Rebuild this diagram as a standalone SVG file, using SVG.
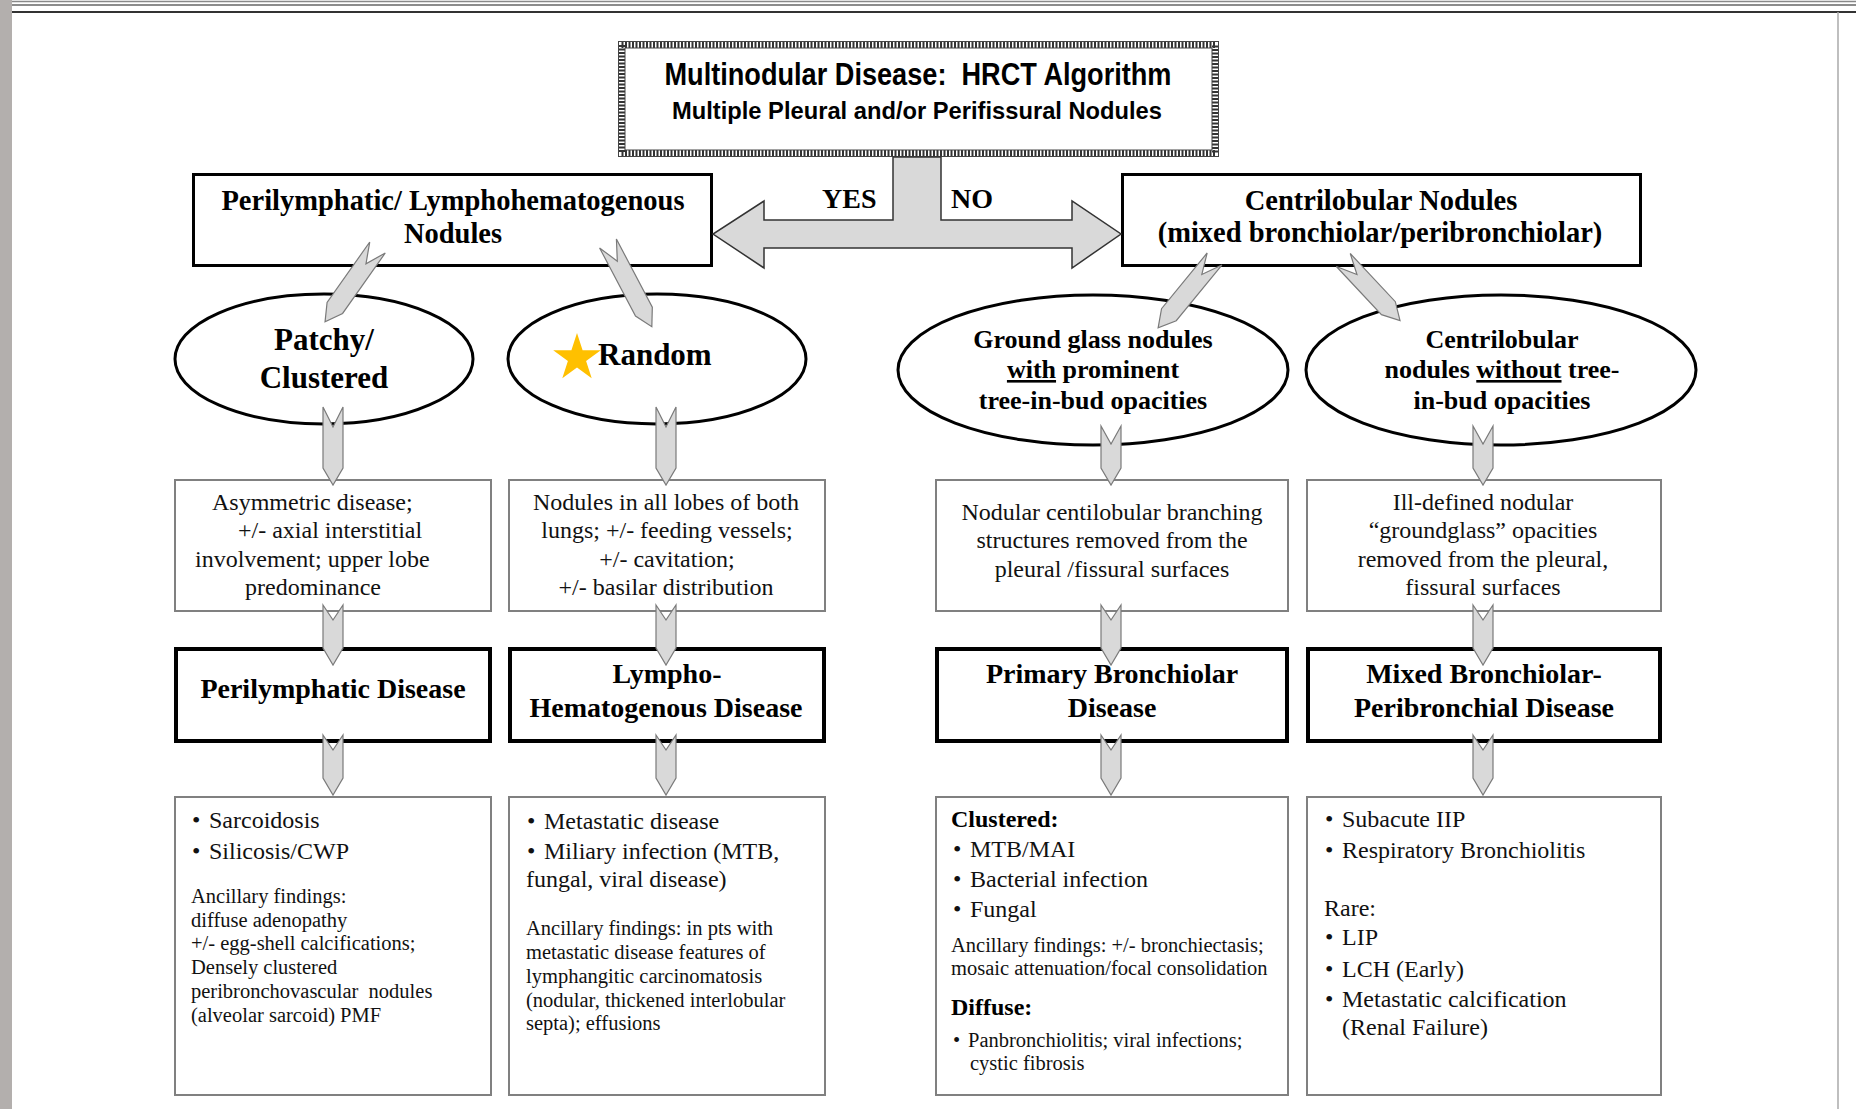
<svg xmlns="http://www.w3.org/2000/svg" width="1856" height="1109" viewBox="0 0 1856 1109">
<style>
.sb{font-family:"Liberation Serif","Times New Roman",serif;font-weight:bold;fill:#000}
.sr{font-family:"Liberation Serif","Times New Roman",serif;fill:#111}
.title{font-family:"Liberation Sans",Arial,sans-serif;font-weight:bold;fill:#000}
.thin{fill:#fff;stroke:#808080;stroke-width:2}
.thick{fill:#fff;stroke:#000;stroke-width:4}
.mid{fill:#fff;stroke:#000;stroke-width:3}
.ell{fill:#fff;stroke:#000;stroke-width:3}
.arr{fill:#d9d9d9;stroke:#7a7a7a;stroke-width:1.2;stroke-linejoin:miter}
.c{text-anchor:middle}
</style>
<rect x="0" y="0" width="1856" height="1109" fill="#fff"/>
<rect x="0" y="0" width="12" height="1109" fill="#b3afad"/>
<line x1="12" y1="1.5" x2="1856" y2="1.5" stroke="#888" stroke-width="1.5"/>
<line x1="12" y1="5" x2="1856" y2="5" stroke="#666" stroke-width="1.5"/>
<line x1="12" y1="12" x2="1856" y2="12" stroke="#333" stroke-width="2"/>
<line x1="1838" y1="12" x2="1838" y2="1109" stroke="#aaa" stroke-width="1.5"/>

<g id="title">
<rect x="621.5" y="44.5" width="594" height="109" fill="#fff" stroke="#333" stroke-width="7" stroke-dasharray="2 1.5"/>
<rect x="618.5" y="41.5" width="600" height="115" fill="none" stroke="#444" stroke-width="1"/>
<rect x="625" y="48" width="587" height="102" fill="none" stroke="#444" stroke-width="1"/>
<text class="title c" x="918" y="85" font-size="31" textLength="507" lengthAdjust="spacingAndGlyphs" xml:space="preserve">Multinodular Disease:  HRCT Algorithm</text>
<text class="title c" x="917" y="119" font-size="24" textLength="490" lengthAdjust="spacingAndGlyphs">Multiple Pleural and/or Perifissural Nodules</text>
</g>

<g id="perilymphatic-nodules">
<rect class="mid" x="193.5" y="174.5" width="518" height="91"/>
<text class="sb c" x="453" y="210" font-size="28.5">Perilymphatic/ Lymphohematogenous</text>
<text class="sb c" x="453" y="243" font-size="28.5">Nodules</text>
</g>

<g id="centrilobular-nodules">
<rect class="mid" x="1122.5" y="174.5" width="518" height="91"/>
<text class="sb c" x="1381" y="210" font-size="28.5">Centrilobular Nodules</text>
<text class="sb c" x="1380" y="242" font-size="28.5">(mixed bronchiolar/peribronchiolar)</text>
</g>

<g id="patchy">
<ellipse class="ell" cx="324" cy="359" rx="149" ry="65"/>
<text class="sb c" x="324" y="350" font-size="31">Patchy/</text>
<text class="sb c" x="324" y="388" font-size="31">Clustered</text>
</g>

<g id="random">
<ellipse class="ell" cx="657" cy="359" rx="149" ry="65"/>
<polygon fill="#FFC000" points="577,333 582.6,350.3 600.8,350.3 586.1,361 591.7,378.2 577,367.6 562.3,378.2 567.9,361 553.2,350.3 571.4,350.3"/>
<text class="sb" x="598" y="365" font-size="31">Random</text>
</g>

<g id="ground-glass">
<ellipse class="ell" cx="1093" cy="370" rx="195" ry="75"/>
<text class="sb c" x="1093" y="348" font-size="26">Ground glass nodules</text>
<text class="sb c" x="1093" y="378" font-size="26"><tspan text-decoration="underline">with</tspan> prominent</text>
<text class="sb c" x="1093" y="409" font-size="26">tree-in-bud opacities</text>
</g>

<g id="centrilobular-no-tib">
<ellipse class="ell" cx="1501" cy="370" rx="195" ry="75"/>
<text class="sb c" x="1502" y="348" font-size="26">Centrilobular</text>
<text class="sb c" x="1502" y="378" font-size="26">nodules <tspan text-decoration="underline">without</tspan> tree-</text>
<text class="sb c" x="1502" y="409" font-size="26">in-bud opacities</text>
</g>

<g id="desc-1">
<rect class="thin" x="175" y="480" width="316" height="131"/>
<text class="sr" font-size="24"><tspan x="212" y="510">Asymmetric disease;</tspan><tspan x="238" y="538">+/- axial interstitial</tspan><tspan x="195" y="567">involvement; upper lobe</tspan><tspan x="245" y="595">predominance</tspan></text>
</g>

<g id="desc-2">
<rect class="thin" x="509" y="480" width="316" height="131"/>
<text class="sr c" font-size="24"><tspan x="666" y="510">Nodules in all lobes of both</tspan><tspan x="667" y="538">lungs; +/- feeding vessels;</tspan><tspan x="667" y="567">+/- cavitation;</tspan><tspan x="666" y="595">+/- basilar distribution</tspan></text>
</g>

<g id="desc-3">
<rect class="thin" x="936" y="480" width="352" height="131"/>
<text class="sr c" font-size="24"><tspan x="1112" y="520">Nodular centilobular branching</tspan><tspan x="1112" y="548">structures removed from the</tspan><tspan x="1112" y="577">pleural /fissural surfaces</tspan></text>
</g>

<g id="desc-4">
<rect class="thin" x="1307" y="480" width="354" height="131"/>
<text class="sr c" font-size="24"><tspan x="1483" y="510">Ill-defined nodular</tspan><tspan x="1483" y="538">“groundglass” opacities</tspan><tspan x="1483" y="567">removed from the pleural,</tspan><tspan x="1483" y="595">fissural surfaces</tspan></text>
</g>

<g id="perilymphatic-disease">
<rect class="thick" x="176" y="649" width="314" height="92"/>
<text class="sb c" x="333" y="698" font-size="28">Perilymphatic Disease</text>
</g>

<g id="lympho-hematogenous-disease">
<rect class="thick" x="510" y="649" width="314" height="92"/>
<text class="sb c" x="667" y="683" font-size="28">Lympho-</text>
<text class="sb c" x="666" y="717" font-size="28">Hematogenous Disease</text>
</g>

<g id="primary-bronchiolar-disease">
<rect class="thick" x="937" y="649" width="350" height="92"/>
<text class="sb c" x="1112" y="683" font-size="28">Primary Bronchiolar</text>
<text class="sb c" x="1112" y="717" font-size="28">Disease</text>
</g>

<g id="mixed-disease">
<rect class="thick" x="1308" y="649" width="352" height="92"/>
<text class="sb c" x="1484" y="683" font-size="28">Mixed Bronchiolar-</text>
<text class="sb c" x="1484" y="717" font-size="28">Peribronchial Disease</text>
</g>

<g id="list-1">
<rect class="thin" x="175" y="797" width="316" height="298"/>
<text class="sr" font-size="24"><tspan x="192" y="828">•</tspan><tspan x="209" y="828">Sarcoidosis</tspan><tspan x="192" y="859">•</tspan><tspan x="209" y="859">Silicosis/CWP</tspan></text>
<text class="sr" font-size="20.5"><tspan x="191" y="903">Ancillary findings:</tspan><tspan x="191" y="927">diffuse adenopathy</tspan><tspan x="191" y="950">+/- egg-shell calcifications;</tspan><tspan x="191" y="974">Densely clustered</tspan><tspan x="191" y="998" xml:space="preserve">peribronchovascular  nodules</tspan><tspan x="191" y="1022">(alveolar sarcoid) PMF</tspan></text>
</g>

<g id="list-2">
<rect class="thin" x="509" y="797" width="316" height="298"/>
<text class="sr" font-size="24"><tspan x="527" y="829">•</tspan><tspan x="544" y="829">Metastatic disease</tspan><tspan x="527" y="859">•</tspan><tspan x="544" y="859">Miliary infection (MTB,</tspan><tspan x="526" y="887">fungal, viral disease)</tspan></text>
<text class="sr" font-size="20.5"><tspan x="526" y="935">Ancillary findings: in pts with</tspan><tspan x="526" y="959">metastatic disease features of</tspan><tspan x="526" y="983">lymphangitic carcinomatosis</tspan><tspan x="526" y="1007">(nodular, thickened interlobular</tspan><tspan x="526" y="1030">septa); effusions</tspan></text>
</g>

<g id="list-3">
<rect class="thin" x="936" y="797" width="352" height="298"/>
<text class="sb" x="951" y="827" font-size="24">Clustered:</text>
<text class="sr" font-size="24"><tspan x="953" y="857">•</tspan><tspan x="970" y="857">MTB/MAI</tspan><tspan x="953" y="887">•</tspan><tspan x="970" y="887">Bacterial infection</tspan><tspan x="953" y="917">•</tspan><tspan x="970" y="917">Fungal</tspan></text>
<text class="sr" font-size="20.5"><tspan x="951" y="952">Ancillary findings: +/- bronchiectasis;</tspan><tspan x="951" y="975">mosaic attenuation/focal consolidation</tspan></text>
<text class="sb" x="951" y="1015" font-size="24">Diffuse:</text>
<text class="sr" font-size="20.5"><tspan x="953" y="1047">•</tspan><tspan x="968" y="1047">Panbronchiolitis; viral infections;</tspan><tspan x="970" y="1070">cystic fibrosis</tspan></text>
</g>

<g id="list-4">
<rect class="thin" x="1307" y="797" width="354" height="298"/>
<text class="sr" font-size="24"><tspan x="1325" y="827">•</tspan><tspan x="1342" y="827">Subacute IIP</tspan><tspan x="1325" y="858">•</tspan><tspan x="1342" y="858">Respiratory Bronchiolitis</tspan><tspan x="1324" y="916">Rare:</tspan><tspan x="1325" y="945">•</tspan><tspan x="1342" y="945">LIP</tspan><tspan x="1325" y="977">•</tspan><tspan x="1342" y="977">LCH (Early)</tspan><tspan x="1325" y="1007">•</tspan><tspan x="1342" y="1007">Metastatic calcification</tspan><tspan x="1342" y="1035">(Renal Failure)</tspan></text>
</g>

<g id="connectors">
<path fill="#d9d9d9" stroke="#333" stroke-width="1.5" stroke-linejoin="miter" d="M893,157 L893,220 L764,220 L764,201 L713,234 L764,268 L764,248 L1072,248 L1072,268 L1121,234 L1072,201 L1072,220 L941,220 L941,157 Z"/>
<text class="sb" x="822" y="208" font-size="28">YES</text>
<text class="sb" x="951" y="208" font-size="28">NO</text>
<path class="arr" transform="translate(377.5,247.5) rotate(35.2)" d="M-9.5,0 L0,20 L9.5,0 L9.5,74 L0,91 L-9.5,74 Z"/>
<path class="arr" transform="translate(608,243.5) rotate(-27.8)" d="M-9.5,0 L0,20 L9.5,0 L9.5,77 L0,94 L-9.5,77 Z"/>
<path class="arr" transform="translate(1214.5,259) rotate(39.3)" d="M-9.5,0 L0,20 L9.5,0 L9.5,72 L0,89 L-9.5,72 Z"/>
<path class="arr" transform="translate(1343.3,260) rotate(-43.1)" d="M-9.5,0 L0,20 L9.5,0 L9.5,66 L0,83 L-9.5,66 Z"/>
<path class="arr" d="M323,407 L333,427 L343,407 L343,468 L333,485 L323,468 Z"/>
<path class="arr" d="M656,407 L666,427 L676,407 L676,468 L666,485 L656,468 Z"/>
<path class="arr" d="M1101,426 L1111,444 L1121,426 L1121,468 L1111,485 L1101,468 Z"/>
<path class="arr" d="M1473,426 L1483,444 L1493,426 L1493,468 L1483,485 L1473,468 Z"/>
<path class="arr" d="M323,605 L333,620 L343,605 L343,648 L333,665 L323,648 Z"/>
<path class="arr" d="M656,605 L666,620 L676,605 L676,648 L666,665 L656,648 Z"/>
<path class="arr" d="M1101,605 L1111,620 L1121,605 L1121,648 L1111,665 L1101,648 Z"/>
<path class="arr" d="M1473,605 L1483,620 L1493,605 L1493,648 L1483,665 L1473,648 Z"/>
<path class="arr" d="M323,735 L333,750 L343,735 L343,778 L333,795 L323,778 Z"/>
<path class="arr" d="M656,735 L666,750 L676,735 L676,778 L666,795 L656,778 Z"/>
<path class="arr" d="M1101,735 L1111,750 L1121,735 L1121,778 L1111,795 L1101,778 Z"/>
<path class="arr" d="M1473,735 L1483,750 L1493,735 L1493,778 L1483,795 L1473,778 Z"/>
</g>
</svg>
